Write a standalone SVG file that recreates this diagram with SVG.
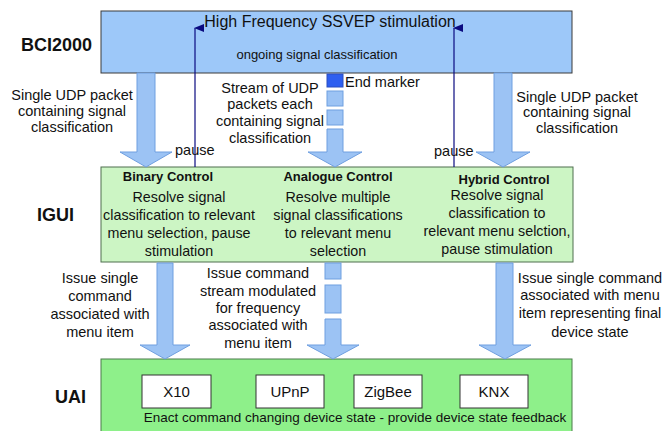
<svg xmlns="http://www.w3.org/2000/svg" width="663" height="431" viewBox="0 0 663 431">
<style>
text{font-family:"Liberation Sans",Arial,sans-serif;fill:#111}
.lbl{font-size:14.5px;text-anchor:middle}
.body{font-size:14.3px;text-anchor:middle}
.hd{font-size:13px;font-weight:bold;text-anchor:middle}
.side{font-size:18px;font-weight:bold}
.arr{fill:#9cc3f4;stroke:#6f9fe0;stroke-width:1}
.sq{fill:#9cc3f4;stroke:#6f9fe0;stroke-width:1}
.dev{fill:#fff;stroke:#333;stroke-width:1}
.dt{font-size:15px;text-anchor:middle}
.pl{stroke:#0a0a80;stroke-width:1.2;fill:none}
</style>
<defs>
<marker id="ah" markerWidth="8" markerHeight="10" refX="4" refY="1" orient="auto-start-reverse" markerUnits="userSpaceOnUse" viewBox="0 0 8 10">
<path d="M4,0 L8,10 L0,10 z" fill="#0a0a80"/>
</marker>
</defs>
<rect width="663" height="431" fill="#fff"/>

<g id="bci2000">
<rect x="101" y="11" width="471" height="62" fill="#9dc8f9" stroke="#3a3a3a" stroke-width="1"/>
<text x="330" y="27" style="font-size:16px;text-anchor:middle">High Frequency SSVEP stimulation</text>
<text x="317" y="59" style="font-size:13px;text-anchor:middle">ongoing signal classification</text>
<text class="side" x="21" y="51">BCI2000</text>
</g>

<g id="igui">
<rect x="101" y="167" width="472" height="95" fill="#ccf5c4" stroke="#4f6f4f" stroke-width="1"/>
<text class="side" x="37" y="221">IGUI</text>
<text class="hd" x="168" y="181">Binary Control</text>
<text class="body" x="179" y="202">Resolve signal</text>
<text class="body" x="179" y="220">classification to relevant</text>
<text class="body" x="179" y="238">menu selection, pause</text>
<text class="body" x="179" y="256">stimulation</text>
<text class="hd" x="338" y="181">Analogue Control</text>
<text class="body" x="338" y="202">Resolve multiple</text>
<text class="body" x="338" y="220">signal classifications</text>
<text class="body" x="338" y="238">to relevant menu</text>
<text class="body" x="338" y="256">selection</text>
<text class="hd" x="504" y="184">Hybrid Control</text>
<text class="body" x="497" y="200">Resolve signal</text>
<text class="body" x="497" y="218">classification to</text>
<text class="body" x="497" y="236">relevant menu selction,</text>
<text class="body" x="497" y="254">pause stimulation</text>
</g>

<g id="uai">
<rect x="101" y="359" width="471" height="80" fill="#8ef08a" stroke="#4b7b4b" stroke-width="1"/>
<text class="side" x="55" y="403">UAI</text>
<g id="x10"><rect class="dev" x="142" y="375" width="69" height="33"/><text class="dt" x="176.5" y="397">X10</text></g>
<g id="upnp"><rect class="dev" x="256" y="375" width="68" height="33"/><text class="dt" x="290" y="397">UPnP</text></g>
<g id="zigbee"><rect class="dev" x="354" y="375" width="68" height="33"/><text class="dt" x="388" y="397">ZigBee</text></g>
<g id="knx"><rect class="dev" x="460" y="375" width="68" height="33"/><text class="dt" x="494" y="397">KNX</text></g>
<text x="355" y="422" style="font-size:13.5px;text-anchor:middle">Enact command changing device state - provide device state feedback</text>
</g>

<g id="connectors">
<polygon class="arr" points="137,73 155,73 155,152 172,152 146,167 120,152 137,152"/>
<rect x="327" y="74" width="16" height="13" fill="#2e5ff0" stroke="#2a4fc0" stroke-width="1"/>
<rect class="sq" x="327" y="91" width="16" height="15"/>
<rect class="sq" x="327" y="110" width="16" height="15"/>
<polygon class="arr" points="327,129 343,129 343,152 362,152 335,167 308,152 327,152"/>
<polygon class="arr" points="494,73 512,73 512,152 530,152 503,167 476,152 494,152"/>
<polygon class="arr" points="157,263 173,263 173,345 190,345 165,359 140,345 157,345"/>
<rect class="sq" x="325" y="263" width="16" height="16"/>
<rect class="sq" x="325" y="285" width="16" height="28"/>
<polygon class="arr" points="325,319 341,319 341,345 359,345 333,359 307,345 325,345"/>
<polygon class="arr" points="496,263 513,263 513,345 531,345 505,359 479,345 496,345"/>
<line class="pl" x1="195" y1="167" x2="195" y2="28" marker-end="url(#ah)"/>
<line class="pl" x1="454" y1="167" x2="454" y2="28" marker-end="url(#ah)"/>

<text class="lbl" x="72" y="100">Single UDP packet</text>
<text class="lbl" x="72" y="116">containing signal</text>
<text class="lbl" x="72" y="132">classification</text>

<text class="lbl" x="270" y="93">Stream of UDP</text>
<text class="lbl" x="270" y="109">packets each</text>
<text class="lbl" x="270" y="126">containing signal</text>
<text class="lbl" x="270" y="143">classification</text>
<text x="345" y="87" style="font-size:14.5px">End marker</text>

<text class="lbl" x="577" y="102">Single UDP packet</text>
<text class="lbl" x="577" y="117">containing signal</text>
<text class="lbl" x="577" y="133">classification</text>

<text x="175" y="155" style="font-size:14.5px">pause</text>
<text x="434" y="156" style="font-size:14.5px">pause</text>

<text class="lbl" x="100" y="283">Issue single</text>
<text class="lbl" x="100" y="301">command</text>
<text class="lbl" x="100" y="319">associated with</text>
<text class="lbl" x="100" y="337">menu item</text>

<text class="lbl" x="258" y="278">Issue command</text>
<text class="lbl" x="258" y="296">stream modulated</text>
<text class="lbl" x="258" y="313">for frequency</text>
<text class="lbl" x="258" y="330">associated with</text>
<text class="lbl" x="258" y="348">menu item</text>

<text class="lbl" x="590" y="283">Issue single command</text>
<text class="lbl" x="590" y="300">associated with menu</text>
<text class="lbl" x="590" y="318">item representing final</text>
<text class="lbl" x="590" y="337">device state</text>
</g>
</svg>
